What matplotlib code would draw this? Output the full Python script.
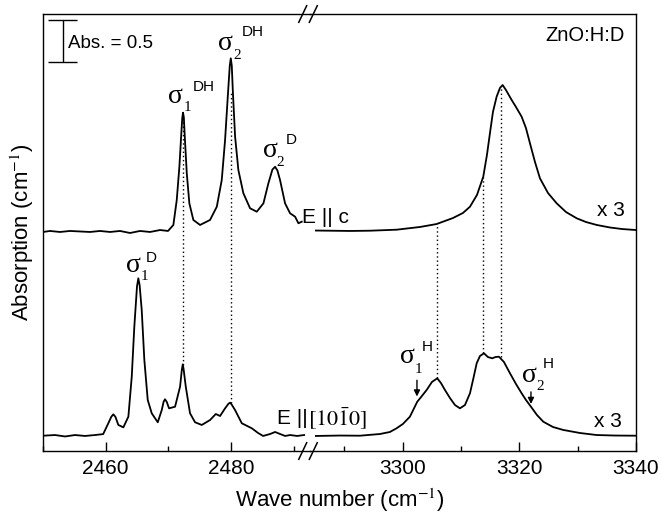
import matplotlib
matplotlib.use("Agg")
import matplotlib.pyplot as plt
from matplotlib.lines import Line2D
from matplotlib.ticker import MultipleLocator

plt.rcParams['font.family'] = ['Liberation Sans', 'DejaVu Sans']
plt.rcParams['mathtext.fontset'] = 'stix'

# ---------------- data (wave number cm^-1, drawn absorption) ----------------
# Upper spectrum (E || c), low-frequency (O-D) window
upper_left_wn = [2450.0, 2451.12, 2452.71, 2454.31, 2455.91, 2457.50, 2459.10, 2460.69,
                 2462.29, 2463.89, 2465.48, 2467.08, 2468.68, 2469.95, 2470.80, 2471.34,
                 2471.76, 2472.07, 2472.22, 2472.34, 2472.47, 2472.62, 2472.94, 2473.35,
                 2473.99, 2475.06, 2476.65, 2477.73, 2478.52, 2479.05, 2479.48, 2479.80,
                 2479.96, 2480.12, 2480.28, 2480.65, 2481.17, 2481.97, 2483.04, 2484.11,
                 2485.17, 2485.96, 2486.60, 2487.03, 2487.40, 2487.82, 2488.62, 2489.42,
                 2490.22, 2490.75, 2491.29]
upper_left_abs = [2.592, 2.604, 2.592, 2.604, 2.598, 2.592, 2.604, 2.592,
                  2.604, 2.580, 2.604, 2.592, 2.615, 2.604, 2.675, 2.970,
                  3.364, 3.760, 3.940, 4.004, 3.950, 3.720, 3.286, 2.931,
                  2.734, 2.675, 2.734, 2.891, 3.207, 3.680, 4.193, 4.560,
                  4.647, 4.560, 4.272, 3.720, 3.325, 3.050, 2.872, 2.832,
                  2.931, 3.168, 3.330, 3.364, 3.320, 3.207, 2.931, 2.813,
                  2.773, 2.695, 2.714]

# Lower spectrum (E || [10-10]), low-frequency window
lower_left_wn = [2450.0, 2451.92, 2453.51, 2455.11, 2456.70, 2458.30, 2459.60, 2460.42,
                 2460.90, 2461.22, 2461.55, 2462.02, 2462.82, 2463.62, 2464.16, 2464.57,
                 2465.00, 2465.21, 2465.42, 2465.75, 2466.17, 2466.71, 2467.35, 2468.31,
                 2468.95, 2469.25, 2469.47, 2469.75, 2470.11, 2471.07, 2471.87, 2472.15,
                 2472.30, 2472.45, 2472.78, 2473.46, 2474.26, 2475.33, 2476.66, 2477.57,
                 2478.25, 2479.05, 2479.60, 2479.85, 2480.10, 2480.64, 2481.72, 2483.31,
                 2484.32, 2485.12, 2486.23, 2487.03, 2487.83, 2488.63, 2489.43, 2490.54,
                 2491.66]
lower_left_abs = [0.181, 0.189, 0.172, 0.189, 0.178, 0.189, 0.200, 0.328,
                  0.405, 0.434, 0.405, 0.308, 0.280, 0.406, 0.879, 1.471,
                  1.950, 2.044, 1.960, 1.669, 1.077, 0.604, 0.446, 0.340,
                  0.485, 0.585, 0.612, 0.580, 0.505, 0.524, 0.761, 0.960,
                  1.026, 0.960, 0.761, 0.446, 0.340, 0.308, 0.367, 0.438,
                  0.414, 0.505, 0.560, 0.572, 0.550, 0.485, 0.328, 0.269,
                  0.213, 0.178, 0.201, 0.225, 0.201, 0.178, 0.189, 0.178,
                  0.189]

# Upper spectrum (E || c), O-H window (x3)
upper_right_wn = [3285.11, 3287.51, 3290.94, 3294.37, 3298.95, 3302.95, 3305.81, 3308.61,
                  3310.33, 3311.53, 3312.73, 3313.81, 3314.44, 3314.96, 3315.47, 3316.10,
                  3316.67, 3317.13, 3317.70, 3318.68, 3319.42, 3320.39, 3321.13, 3321.82,
                  3322.68, 3323.53, 3324.91, 3326.40, 3328.00, 3329.83, 3331.42, 3333.26,
                  3335.54, 3337.60, 3340.0]
upper_right_abs = [2.609, 2.607, 2.604, 2.607, 2.619, 2.651, 2.686, 2.757,
                   2.817, 2.891, 3.030, 3.246, 3.503, 3.763, 4.012, 4.193,
                   4.296, 4.331, 4.272, 4.154, 4.071, 3.956, 3.822, 3.641,
                   3.420, 3.227, 3.053, 2.931, 2.828, 2.754, 2.710, 2.675,
                   2.645, 2.627, 2.615]

# Lower spectrum (E || [10-10]), O-H window (x3)
lower_right_wn = [3285.11, 3289.23, 3292.66, 3296.09, 3297.80, 3298.95, 3300.03, 3301.23,
                  3302.49, 3303.29, 3304.10, 3305.01, 3305.92, 3306.55, 3307.24, 3308.10,
                  3308.96, 3309.81, 3310.67, 3311.53, 3312.13, 3312.68, 3313.24, 3313.93,
                  3314.61, 3315.35, 3315.90, 3316.50, 3317.36, 3318.39, 3319.42, 3320.39,
                  3321.13, 3321.99, 3323.02, 3324.10, 3325.76, 3327.53, 3330.39, 3333.26,
                  3336.40, 3340.0]
lower_right_abs = [0.178, 0.183, 0.181, 0.201, 0.225, 0.269, 0.320, 0.406,
                   0.583, 0.651, 0.722, 0.817, 0.860, 0.805, 0.722, 0.627,
                   0.544, 0.505, 0.544, 0.683, 0.864, 1.038, 1.124, 1.156,
                   1.112, 1.097, 1.112, 1.116, 1.053, 0.920, 0.793, 0.683,
                   0.604, 0.524, 0.426, 0.347, 0.284, 0.249, 0.213, 0.189,
                   0.183, 0.181]

# Dotted correlation lines: position, top, bottom
dot_left_wn = [2472.3, 2479.95]
dot_left_top = [3.94, 4.24]
dot_left_bot = [1.02, 0.57]
dot_right_wn = [3305.9, 3313.8, 3316.8]
dot_right_top = [2.66, 3.24, 4.30]
dot_right_bot = [0.86, 1.16, 1.11]

left_ticks = [2460, 2480]
right_ticks = [3300, 3320, 3340]

# ---------------- figure ----------------
W, H = 661, 519
fig = plt.figure(figsize=(W / 100, H / 100), dpi=100)
x0, xb, x1 = 43, 310, 636
yb, yt = 451, 14
ax1 = fig.add_axes([x0 / W, (H - yb) / H, (xb - x0) / W, (yb - yt) / H])
ax2 = fig.add_axes([xb / W, (H - yb) / H, (x1 - xb) / W, (yb - yt) / H])

ylim = (0, (yb - yt) / 84.5)
ax1.set_xlim(2450, 2492.6)
ax2.set_xlim(3284.1, 3340)
for ax in (ax1, ax2):
    ax.patch.set_visible(False)
    ax.set_ylim(*ylim)
    ax.set_yticks([])
    for s in ax.spines.values():
        s.set_linewidth(1.0)
    ax.tick_params(axis='x', which='major', direction='in', length=6.5, width=1.0,
                   labelsize=15, pad=6, top=False)
    ax.tick_params(axis='x', which='minor', direction='in', length=3.6, width=1.0, top=False)
    ax.xaxis.set_minor_locator(MultipleLocator(10))
ax1.spines['right'].set_visible(False)
ax2.spines['left'].set_visible(False)
ax1.set_xticks(left_ticks)
ax2.set_xticks(right_ticks)

lc = dict(color='black', lw=1.3)
ax1.plot(upper_left_wn, upper_left_abs, **lc)
ax1.plot(lower_left_wn, lower_left_abs, **lc)
ax2.plot(upper_right_wn, upper_right_abs, **lc)
ax2.plot(lower_right_wn, lower_right_abs, **lc)

ds = dict(color='black', lw=1.0, linestyle=(0, (1, 2)))
ax1.vlines(dot_left_wn, dot_left_bot, dot_left_top, **ds)
ax2.vlines(dot_right_wn, dot_right_bot, dot_right_top, **ds)

# break marks
for yy in (0.0, 1.0):
    for dx in (-0.011, 0.005):
        fig.add_artist(Line2D([xb / W + dx - 0.006, xb / W + dx + 0.006],
                              [(H - yb) / H + yy * (yb - yt) / H - 0.016,
                               (H - yb) / H + yy * (yb - yt) / H + 0.016],
                              color='black', lw=1.1))

# scale bar
ax1.vlines(2453.14, 4.600, 5.101, color='black', lw=1.0)
ax1.hlines([4.600, 5.101], 2450.85, 2455.38, color='black', lw=1.0)
ax1.text(2454.04, 4.825, 'Abs. = 0.5', fontsize=13.5, va='center', ha='left')
ax2.text(3338.1, 4.923, 'ZnO:H:D', fontsize=14.5, va='center', ha='right')

# sigma labels
def sigma_label(ax, s, sub, sup):
    ax.text(*s, 'σ', family='Liberation Serif', fontsize=20, ha='center', va='center')
    ax.text(*sub[:2], sub[2], family='Liberation Serif', fontsize=11, ha='center', va='center')
    ax.text(*sup[:2], sup[2], fontsize=11, ha='center', va='center')

sigma_label(ax1, (2471.15, 4.195), (2472.98, 4.071, '1'), (2475.70, 4.308, 'DH'))
sigma_label(ax1, (2479.16, 4.822), (2481.05, 4.675, '2'), (2483.44, 4.959, 'DH'))
sigma_label(ax1, (2486.23, 3.562), (2487.91, 3.414, '2'), (2489.59, 3.675, 'D'))
sigma_label(ax1, (2464.37, 2.201), (2466.12, 2.071, '1'), (2467.35, 2.284, 'D'))
sigma_label(ax2, (3300.79, 1.116), (3302.76, 0.959, '1'), (3304.22, 1.225, 'H'))
sigma_label(ax2, (3321.65, 0.899), (3323.53, 0.769, '2'), (3324.96, 1.030, 'H'))

arrow = dict(arrowstyle='-|>', color='black', lw=1.0, mutation_scale=9)
ax2.annotate('', xy=(3302.44, 0.612), xytext=(3302.44, 0.870), arrowprops=arrow)
ax2.annotate('', xy=(3321.99, 0.524), xytext=(3321.99, 0.732), arrowprops=arrow)

ax1.text(2491.34, 2.769, 'E || c', fontsize=15, ha='left', va='center', clip_on=False)
ax1.text(2487.35, 0.379, 'E ||', fontsize=15, ha='left', va='center', clip_on=False)
ax1.text(2492.3, 0.379, r'$[10\bar{1}0]$', fontsize=16, ha='left', va='center', clip_on=False)
ax2.text(3335.63, 2.852, 'x 3', fontsize=15, ha='center', va='center')
ax2.text(3335.11, 0.349, 'x 3', fontsize=15, ha='center', va='center')

fig.text(339.5 / W, (H - 500) / H, 'Wave number (cm$^{-1}$)', fontsize=16,
         ha='center', va='center')
fig.text(22 / W, (H - 232) / H, 'Absorption (cm$^{-1}$)', fontsize=16,
         ha='center', va='center', rotation=90)

fig.savefig('out.png', dpi=100)
